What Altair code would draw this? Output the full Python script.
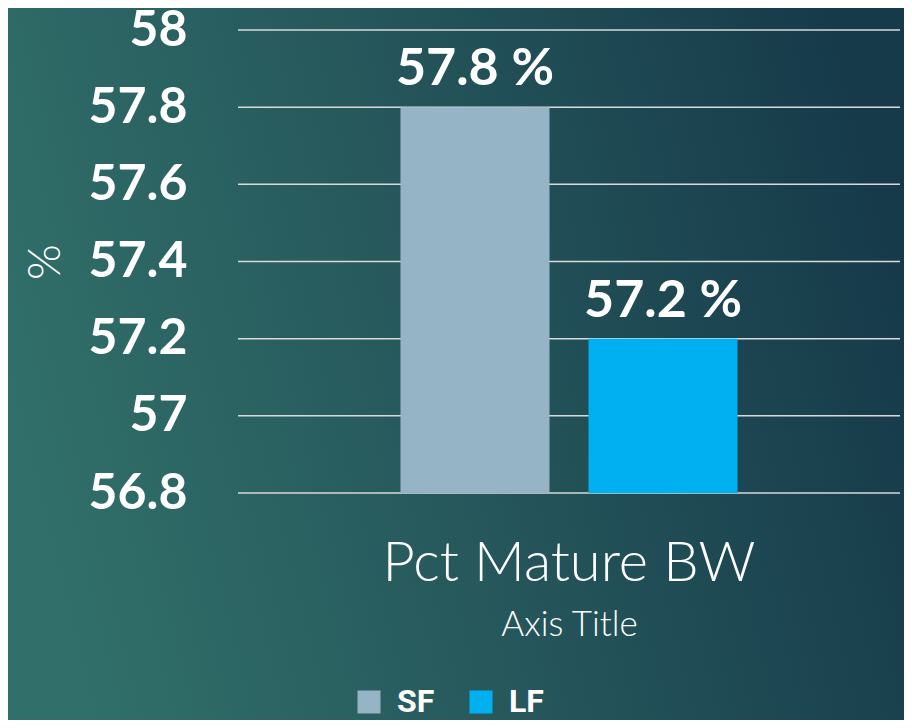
import altair as alt
import pandas as pd

category = ["Pct Mature BW", "Pct Mature BW"]
series = ["SF", "LF"]
values = [57.8, 57.2]
y_ticks = [56.8, 57.0, 57.2, 57.4, 57.6, 57.8, 58.0]
colors = ["#95B5C7", "#00B0F0"]
y_min, y_max = 56.8, 58.0

df = pd.DataFrame({"cat": category, "series": series, "value": values})
df["label"] = [f"{v:.1f} %" for v in values]
ticks_df = pd.DataFrame({"value": y_ticks})

W, H = 662, 463
PL, PT, PR, PB = 230, 22, 4, 227

FONT = "Lato"

grad = alt.Gradient(
    gradient="linear",
    stops=[alt.GradientStop(color="#31706A", offset=0),
           alt.GradientStop(color="#25565B", offset=0.5),
           alt.GradientStop(color="#163A4A", offset=1)],
    x1=0, x2=1, y1=0.6, y2=0.4,
)

bg = alt.Chart(alt.Data(values=[{}])).mark_rect(color=grad).encode(
    x=alt.value(-PL), x2=alt.value(W + PR), y=alt.value(-PT), y2=alt.value(H + PB)
)

yscale = alt.Scale(domain=[y_min, y_max], zero=False, nice=False)
yaxis = alt.Axis(
    title="%", values=y_ticks, format=".1~f", grid=False, domain=False, ticks=False,
    tickSize=0, zindex=2, labelFont=FONT, labelFontSize=50, labelFontWeight="bold",
    labelColor="white", labelPadding=51, labelBaseline="middle",
    titleFont=FONT, titleFontSize=46, titleFontWeight=300, titleColor="white",
    titleX=-193, titleY=H / 2, titleAlign="center", titleBaseline="middle", titleAngle=270,
)

grid = alt.Chart(ticks_df).mark_rule(color="#D9D9D9", strokeWidth=1.5).encode(
    y=alt.Y("value:Q", scale=yscale, axis=yaxis)
)

xenc = alt.X(
    "cat:N",
    scale=alt.Scale(paddingInner=0, paddingOuter=0.482),
    axis=alt.Axis(
        title="Axis Title", labelAngle=0, domain=False, ticks=False, tickSize=0, zindex=2,
        labelFont=FONT, labelFontSize=56, labelFontWeight=300, labelColor="white",
        labelBaseline="alphabetic", labelPadding=87, labelLimit=800,
        titleFont=FONT, titleFontSize=35, titleFontWeight=300, titleColor="white",
        titleBaseline="alphabetic", titleY=142,
    ),
)
xoff = alt.XOffset("series:N", sort=series, scale=alt.Scale(paddingInner=0.2074, paddingOuter=0))

bars = alt.Chart(df).mark_bar().encode(
    x=xenc, xOffset=xoff,
    y=alt.Y("value:Q", scale=yscale, axis=yaxis), y2=alt.Y2Datum(y_min),
    color=alt.Color(
        "series:N", sort=series,
        scale=alt.Scale(domain=series, range=colors),
        legend=alt.Legend(
            title=None, orient="none", legendX=115, legendY=656, direction="horizontal",
            symbolType="square", symbolSize=529, symbolStrokeWidth=0, symbolOpacity=1,
            labelFont="Roboto", labelFontSize=32, labelFontWeight="bold",
            labelColor="white", labelOffset=12, columnPadding=30,
        ),
    ),
)

text = alt.Chart(df).mark_text(
    font=FONT, fontSize=52, fontWeight="bold", color="white", baseline="alphabetic", dy=-22
).encode(x=alt.X("cat:N"), xOffset=alt.XOffset("series:N", sort=series), y=alt.Y("value:Q"), text="label:N")

chart = alt.layer(bg, grid, bars, text).properties(
    width=W, height=H,
    padding={"left": PL, "top": PT, "right": PR, "bottom": PB},
    autosize=alt.AutoSizeParams(type="none"),
).configure_view(stroke=None).configure(background="#24545A")

chart.save("out.html", embed_options={"renderer": "svg", "actions": False})
